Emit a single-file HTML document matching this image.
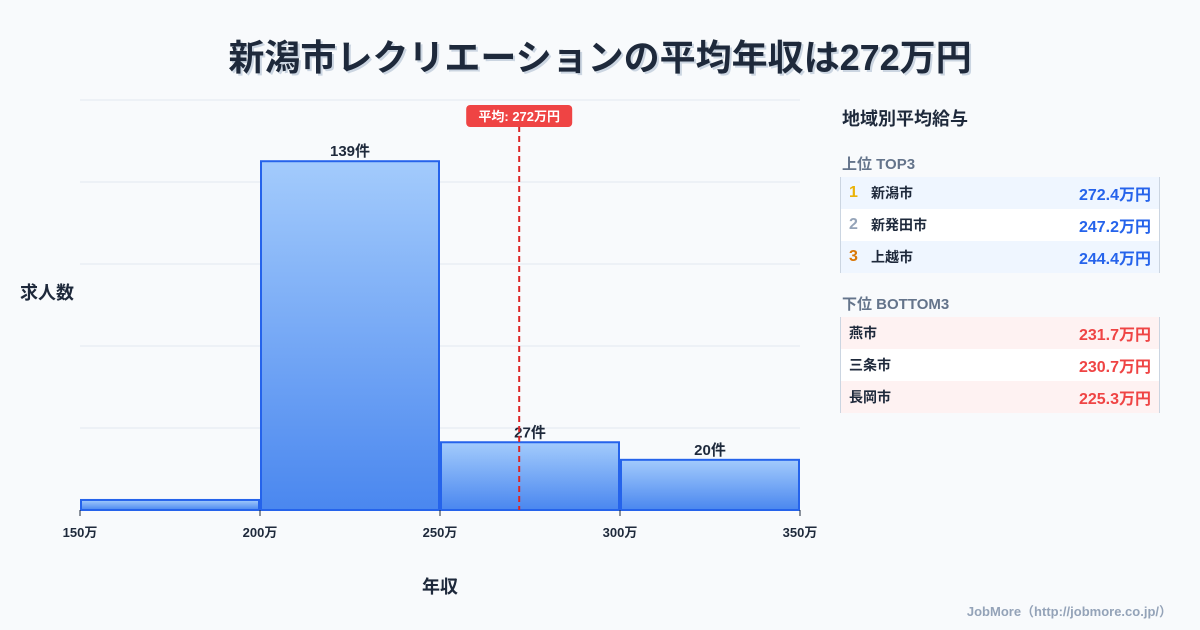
<!DOCTYPE html>
<html><head><meta charset="utf-8"><style>
body{margin:0;width:1200px;height:630px;background:#f8fafc;font-family:"Liberation Sans","Noto Sans CJK JP",sans-serif;position:relative;overflow:hidden;color:#1e293b}
.title{position:absolute;top:29px;left:0;width:1200px;text-align:center;font-size:36px;font-weight:bold;color:#1e293b;text-shadow:2px 2px 0 #cbd5e1}
.side{position:absolute;left:840px;top:100px;width:320px}
.h{font-size:18px;font-weight:bold;margin:5px 0 0 2px}
.sub{font-size:15px;font-weight:bold;color:#64748b;margin:2px 0 0 2px;height:24px}
.tbl{border-left:1px solid #cbd5e1;border-right:1px solid #cbd5e1;margin-bottom:20px}
.row{height:32px;display:flex;align-items:center;font-size:14px;font-weight:bold;padding:0 8px}
.row .n{width:22px;font-size:16px}
.row .c{flex:1}
.row .v{font-size:16px}
.foot{position:absolute;right:28px;bottom:10px;font-size:13px;font-weight:bold;color:#94a3b8}
</style></head><body>
<div class="title">新潟市レクリエーションの平均年収は272万円</div>
<svg id="chart" width="1200" height="630" style="position:absolute;left:0;top:0"></svg>
<div class="side">
<div class="h">地域別平均給与</div>
<div class="sub" style="margin-top:22px">上位 TOP3</div>
<div class="tbl">
<div class="row" style="background:#eff6ff"><span class="n" style="color:#eab308">1</span><span class="c">新潟市</span><span class="v" style="color:#2563eb">272.4万円</span></div>
<div class="row" style="background:#fff"><span class="n" style="color:#94a3b8">2</span><span class="c">新発田市</span><span class="v" style="color:#2563eb">247.2万円</span></div>
<div class="row" style="background:#eff6ff"><span class="n" style="color:#d97706">3</span><span class="c">上越市</span><span class="v" style="color:#2563eb">244.4万円</span></div>
</div>
<div class="sub">下位 BOTTOM3</div>
<div class="tbl">
<div class="row" style="background:#fef2f2"><span class="c">燕市</span><span class="v" style="color:#ef4444">231.7万円</span></div>
<div class="row" style="background:#fff"><span class="c">三条市</span><span class="v" style="color:#ef4444">230.7万円</span></div>
<div class="row" style="background:#fef2f2"><span class="c">長岡市</span><span class="v" style="color:#ef4444">225.3万円</span></div>
</div>
</div>
<div class="foot">JobMore（http://jobmore.co.jp/）</div>
<script>
const binStarts=[150,200,250,300];
const binEnds=[200,250,300,350];
const counts=[4,139,27,20];
const countLabels=["","139件","27件","20件"];
const xTicks=[150,200,250,300,350];
const meanValue=272;
const NS="http://www.w3.org/2000/svg";
const svg=document.getElementById('chart');
const X0=80,X1=800,Y0=510,YT=100,xmin=150,xmax=350,ymax=163.4;
const x=v=>X0+(v-xmin)/(xmax-xmin)*(X1-X0);
const y=v=>Y0-v/ymax*(Y0-YT);
function mk(t,a){const e=document.createElementNS(NS,t);for(const k in a)e.setAttribute(k,a[k]);svg.appendChild(e);return e;}
const defs=mk('defs',{});
defs.innerHTML='<linearGradient id="g" x1="0" y1="0" x2="0" y2="1"><stop offset="0" stop-color="#a3cbfc"/><stop offset="1" stop-color="#4a87ef"/></linearGradient>';
for(let i=1;i<=5;i++){const gy=Y0-i*(Y0-YT)/5;
const l=mk('line',{x1:X0,x2:X1,y1:gy,y2:gy,stroke:'#e2e8f0','stroke-width':1});

}
counts.forEach((c,i)=>{
const r=mk('rect',{x:x(binStarts[i])+1,y:y(c),width:x(binEnds[i])-x(binStarts[i])-2,height:Y0-y(c),fill:'url(#g)',stroke:'#2563eb','stroke-width':2});


if(countLabels[i]){const t=mk('text',{x:(x(binStarts[i])+x(binEnds[i]))/2,y:y(c)-5,'text-anchor':'middle','font-size':15,'font-weight':'bold',fill:'#1e293b'});t.textContent=countLabels[i];

}
});
xTicks.forEach(v=>{
const l=mk('line',{x1:x(v),x2:x(v),y1:Y0,y2:Y0+6,stroke:'#1e293b','stroke-width':1});


const t=mk('text',{x:x(v),y:Y0+27,'text-anchor':'middle','font-size':13,'font-weight':'bold',fill:'#1e293b'});t.textContent=v+'万';


});
const mx=x(meanValue);
const ml=mk('line',{x1:mx,x2:mx,y1:126,y2:Y0,stroke:'#dc2626','stroke-width':2,'stroke-dasharray':'6,4'});


const mb=mk('rect',{x:mx-53,y:105,width:106,height:22,rx:4,fill:'#ef4444'});


const mt=mk('text',{x:mx,y:121,'text-anchor':'middle','font-size':13,'font-weight':'bold',fill:'#fff'});mt.textContent='平均: '+meanValue+'万円';


const yt=mk('text',{x:20,y:299,'font-size':18,'font-weight':'bold',fill:'#1e293b'});yt.textContent='求人数';


const xt=mk('text',{x:440,y:593,'text-anchor':'middle','font-size':18,'font-weight':'bold',fill:'#1e293b'});xt.textContent='年収';


</script>
</body></html>
